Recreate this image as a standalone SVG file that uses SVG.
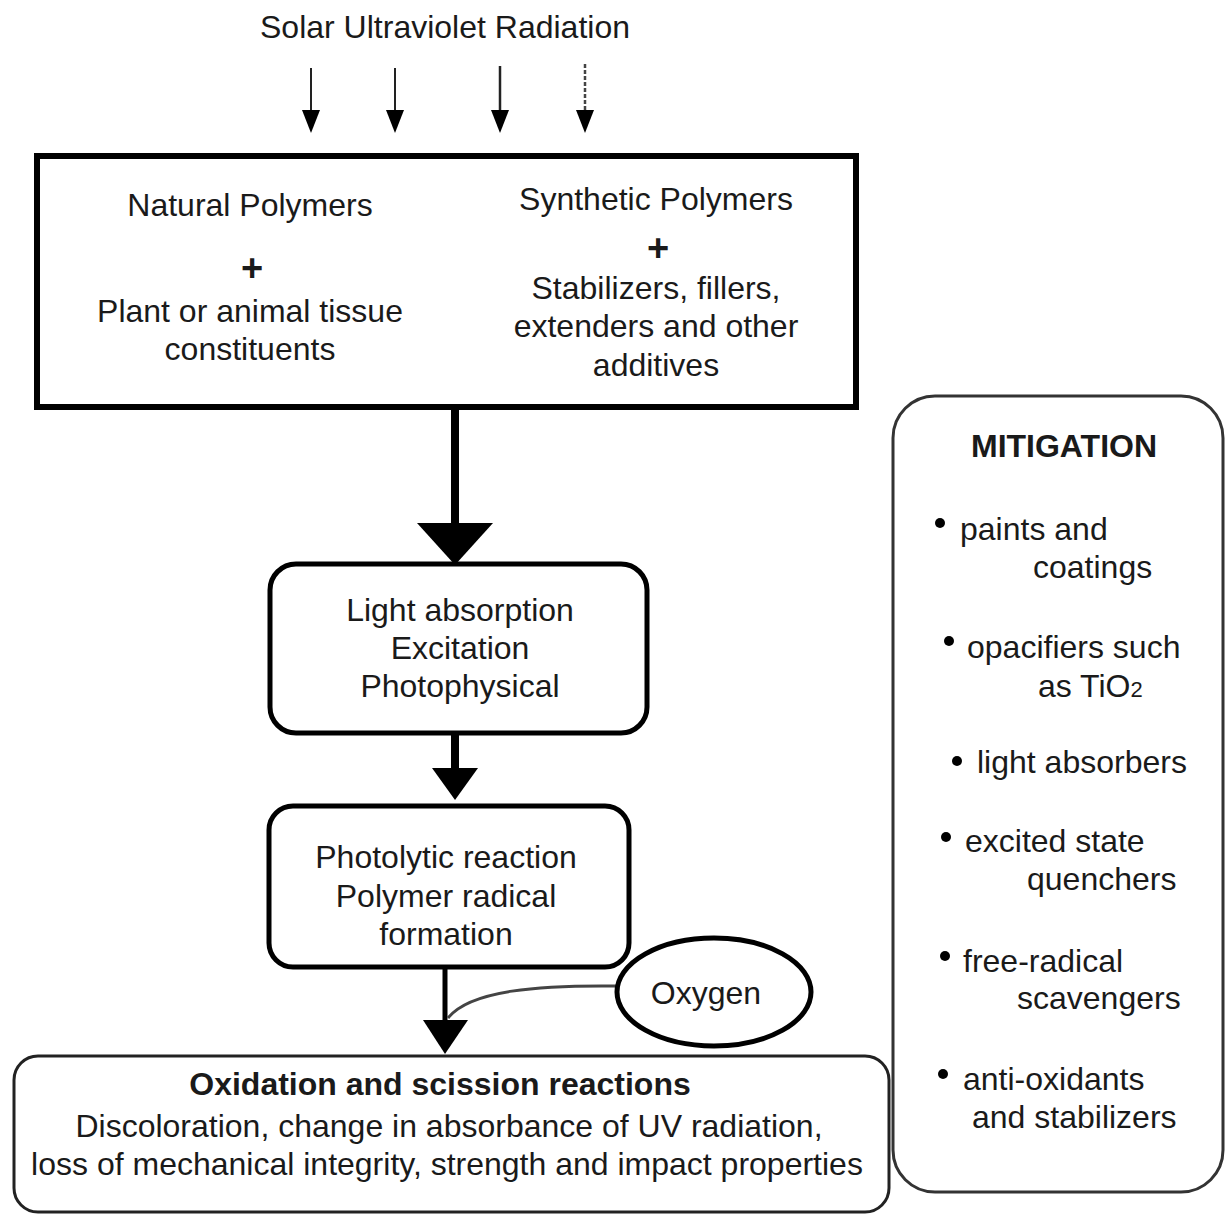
<svg xmlns="http://www.w3.org/2000/svg" width="1227" height="1216" viewBox="0 0 1227 1216">
<style>
text{font-family:"Liberation Sans",Arial,sans-serif;font-size:32px;fill:#1a1a1a}
.c{text-anchor:middle}
.b{font-weight:bold}
.plus{font-weight:bold;font-size:38px}
.box{fill:none;stroke:#000;stroke-width:5}
.shaft{fill:none;stroke:#000;stroke-width:8}
.head{fill:#000}
.dot{fill:#000}
</style>
<rect width="1227" height="1216" fill="#fff"/>
<text class="c" x="445" y="38">Solar Ultraviolet Radiation</text>

<g id="uv-arrows">
<line x1="311" y1="68" x2="311" y2="112" stroke="#222" stroke-width="2"/>
<path class="head" d="M302,110 L320,110 L311,133 Z"/>
<line x1="395" y1="68" x2="395" y2="112" stroke="#222" stroke-width="2"/>
<path class="head" d="M386,110 L404,110 L395,133 Z"/>
<line x1="500" y1="66" x2="500" y2="112" stroke="#222" stroke-width="2.5"/>
<path class="head" d="M491,110 L509,110 L500,133 Z"/>
<line x1="585" y1="64" x2="585" y2="112" stroke="#444" stroke-width="2.5" stroke-dasharray="4,2"/>
<path class="head" d="M576,110 L594,110 L585,133 Z"/>
</g>

<g id="polymers">
<rect x="37" y="156" width="819" height="251" fill="#fff" stroke="#000" stroke-width="6"/>
<text class="c" x="250" y="216">Natural Polymers</text>
<text class="c plus" x="252" y="281">+</text>
<text class="c" x="250" y="322">Plant or animal tissue</text>
<text class="c" x="250" y="360">constituents</text>
<text class="c" x="656" y="210">Synthetic Polymers</text>
<text class="c plus" x="658" y="261">+</text>
<text class="c" x="656" y="299">Stabilizers, fillers,</text>
<text class="c" x="656" y="337">extenders and other</text>
<text class="c" x="656" y="376">additives</text>
</g>

<g id="connectors">
<line class="shaft" x1="455" y1="408" x2="455" y2="530"/>
<path class="head" d="M417,523 L493,523 L455,565 Z"/>
<line class="shaft" x1="455" y1="734" x2="455" y2="772"/>
<path class="head" d="M432,768 L478,768 L455,800 Z"/>
<line x1="445" y1="968" x2="445" y2="1025" stroke="#000" stroke-width="5"/>
<path class="head" d="M423,1020 L468,1020 L445,1054 Z"/>
<path d="M618,986 C540,985 470,990 448,1018" fill="none" stroke="#444" stroke-width="3"/>
</g>

<g id="absorption">
<rect class="box" x="270" y="564" width="377" height="169" rx="26" fill="#fff"/>
<text class="c" x="460" y="621">Light absorption</text>
<text class="c" x="460" y="659">Excitation</text>
<text class="c" x="460" y="697">Photophysical</text>
</g>

<g id="photolytic">
<rect class="box" x="269" y="806" width="360" height="161" rx="24" fill="#fff"/>
<text class="c" x="446" y="868">Photolytic reaction</text>
<text class="c" x="446" y="907">Polymer radical</text>
<text class="c" x="446" y="945">formation</text>
</g>

<g id="oxygen">
<ellipse cx="714" cy="992" rx="97" ry="54" fill="#fff" stroke="#000" stroke-width="5"/>
<text class="c" x="706" y="1004">Oxygen</text>
</g>

<g id="oxidation">
<rect x="14" y="1056" width="875" height="156" rx="24" fill="#fff" stroke="#222" stroke-width="3"/>
<text class="c b" x="440" y="1095">Oxidation and scission reactions</text>
<text class="c" x="449" y="1137">Discoloration, change in absorbance of UV radiation,</text>
<text class="c" x="447" y="1175">loss of mechanical integrity, strength and impact properties</text>
</g>

<g id="mitigation">
<rect x="893" y="396" width="330" height="796" rx="42" fill="#fff" stroke="#333" stroke-width="3"/>
<text class="c b" x="1064" y="457">MITIGATION</text>
<circle class="dot" cx="940" cy="523" r="5"/>
<text x="960" y="540">paints and</text>
<text x="1033" y="578">coatings</text>
<circle class="dot" cx="949" cy="641" r="5"/>
<text x="967" y="658">opacifiers such</text>
<text x="1038" y="697">as TiO<tspan font-size="22">2</tspan></text>
<circle class="dot" cx="957" cy="761" r="5"/>
<text x="977" y="773">light absorbers</text>
<circle class="dot" cx="946" cy="837" r="5"/>
<text x="965" y="852">excited state</text>
<text x="1027" y="890">quenchers</text>
<circle class="dot" cx="945" cy="956" r="5"/>
<text x="963" y="972">free-radical</text>
<text x="1017" y="1009">scavengers</text>
<circle class="dot" cx="943" cy="1074" r="5"/>
<text x="963" y="1090">anti-oxidants</text>
<text x="972" y="1128">and stabilizers</text>
</g>
</svg>
